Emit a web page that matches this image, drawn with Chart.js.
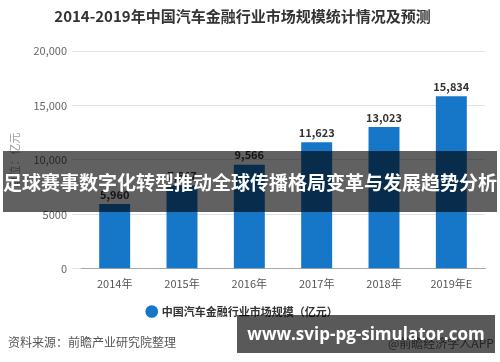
<!DOCTYPE html>
<html>
<head>
<meta charset="utf-8">
<script src="https://cdn.jsdelivr.net/npm/chart.js@4.4.0/dist/chart.umd.min.js"></script>
<style>
    body { margin: 0; background: #fff; }
    #wrap { position: relative; width: 500px; height: 362px; font-family: "Noto Sans CJK SC", "Noto Sans", sans-serif; }
    #grafico { position: absolute; left: 0; top: 0; }
    .faixa { position: absolute; left: 3px; top: 151px; width: 494px; height: 61px; background: rgba(0,0,0,0.62);
             color: #fff; font-weight: bold; font-size: 19px; line-height: 61px; text-align: center; white-space: nowrap; }
    .fonte { position: absolute; left: 8px; top: 333px; font-size: 12px; color: #555; }
    .app { position: absolute; left: 388px; top: 334px; font-size: 12px; color: #666; }
    .marca { position: absolute; left: 237px; top: 315px; width: 258px; height: 38px; background: rgba(0,0,0,0.65);
             color: #fff; font-family: "Open Sans", "DejaVu Sans", sans-serif; font-weight: bold; font-size: 17px; line-height: 38px; text-align: center; white-space: nowrap; }
</style>
</head>
<body>
<div id="wrap">
    <canvas id="grafico" width="500" height="362"></canvas>
    <div class="fonte">资料来源：前瞻产业研究院整理</div>
    <div class="app">@前瞻经济学人APP</div>
    <div class="marca">www.svip-pg-simulator.com</div>
    <div class="faixa">足球赛事数字化转型推动全球传播格局变革与发展趋势分析</div>
</div>
<script>
//Dados do gráfico
const anos = ['2014年', '2015年', '2016年', '2017年', '2018年', '2019年E'];
const mercado = [5960, 7647, 9566, 11623, 13023, 15834];
const rotuloSerie = '中国汽车金融行业市场规模（亿元）';
const tituloGrafico = '2014-2019年中国汽车金融行业市场规模统计情况及预测';

const fonteCJK = '"Noto Sans CJK SC", "Noto Sans", sans-serif';
const azul = '#1677c9';

//Plugin para escrever os valores acima das barras
const rotulosValores = {
    id: 'rotulosValores',
    afterDatasetsDraw(chart) {
        const ctx = chart.ctx;
        ctx.save();
        ctx.font = 'bold 11px ' + fonteCJK;
        ctx.fillStyle = '#333';
        ctx.textAlign = 'center';
        ctx.textBaseline = 'bottom';
        chart.getDatasetMeta(0).data.forEach((bar, i) => {
            ctx.fillText(mercado[i].toLocaleString('en-US'), bar.x, bar.y - 4);
        });
        ctx.restore();
    }
};

const ctx = document.getElementById('grafico').getContext('2d');
new Chart(ctx, {
    type: 'bar',
    data: {
        labels: anos,
        datasets: [{
            label: rotuloSerie,
            data: mercado,
            backgroundColor: azul,
            barPercentage: 0.92,
            categoryPercentage: 0.5
        }]
    },
    options: {
        responsive: false,
        animation: false,
        layout: { padding: { left: 0, right: 15, top: 0, bottom: 35 } },
        plugins: {
            title: {
                display: true,
                text: tituloGrafico,
                color: '#333',
                font: { family: fonteCJK, size: 15, weight: 'bold' },
                padding: { top: 7, bottom: 26 }
            },
            legend: {
                position: 'bottom',
                labels: {
                    usePointStyle: true,
                    pointStyle: 'circle',
                    boxWidth: 9,
                    boxHeight: 9,
                    color: '#333',
                    padding: 12,
                    font: { family: fonteCJK, size: 11, weight: 'bold' }
                }
            },
            tooltip: { enabled: false }
        },
        scales: {
            x: {
                offset: true,
                grid: { display: false, drawOnChartArea: false, drawTicks: true, tickLength: 4, offset: false, color: '#999' },
                border: { color: '#aaa' },
                ticks: { color: '#555', padding: 4, font: { family: fonteCJK, size: 11 } }
            },
            y: {
                min: 0,
                max: 20000,
                afterFit(scale) { scale.width = 81; },
                grid: { color: '#e2e2e2', drawTicks: true, tickLength: 9 },
                border: { display: false },
                ticks: {
                    stepSize: 5000,
                    padding: 5,
                    color: '#666',
                    font: { family: fonteCJK, size: 11 },
                    callback: v => v >= 10000 ? v.toLocaleString('en-US') : String(v)
                },
                title: {
                    display: true,
                    text: '单位：亿元',
                    color: '#999',
                    padding: { top: 8, bottom: 0 },
                    font: { family: fonteCJK, size: 11 }
                }
            }
        }
    },
    plugins: [rotulosValores]
});
</script>
</body>
</html>
